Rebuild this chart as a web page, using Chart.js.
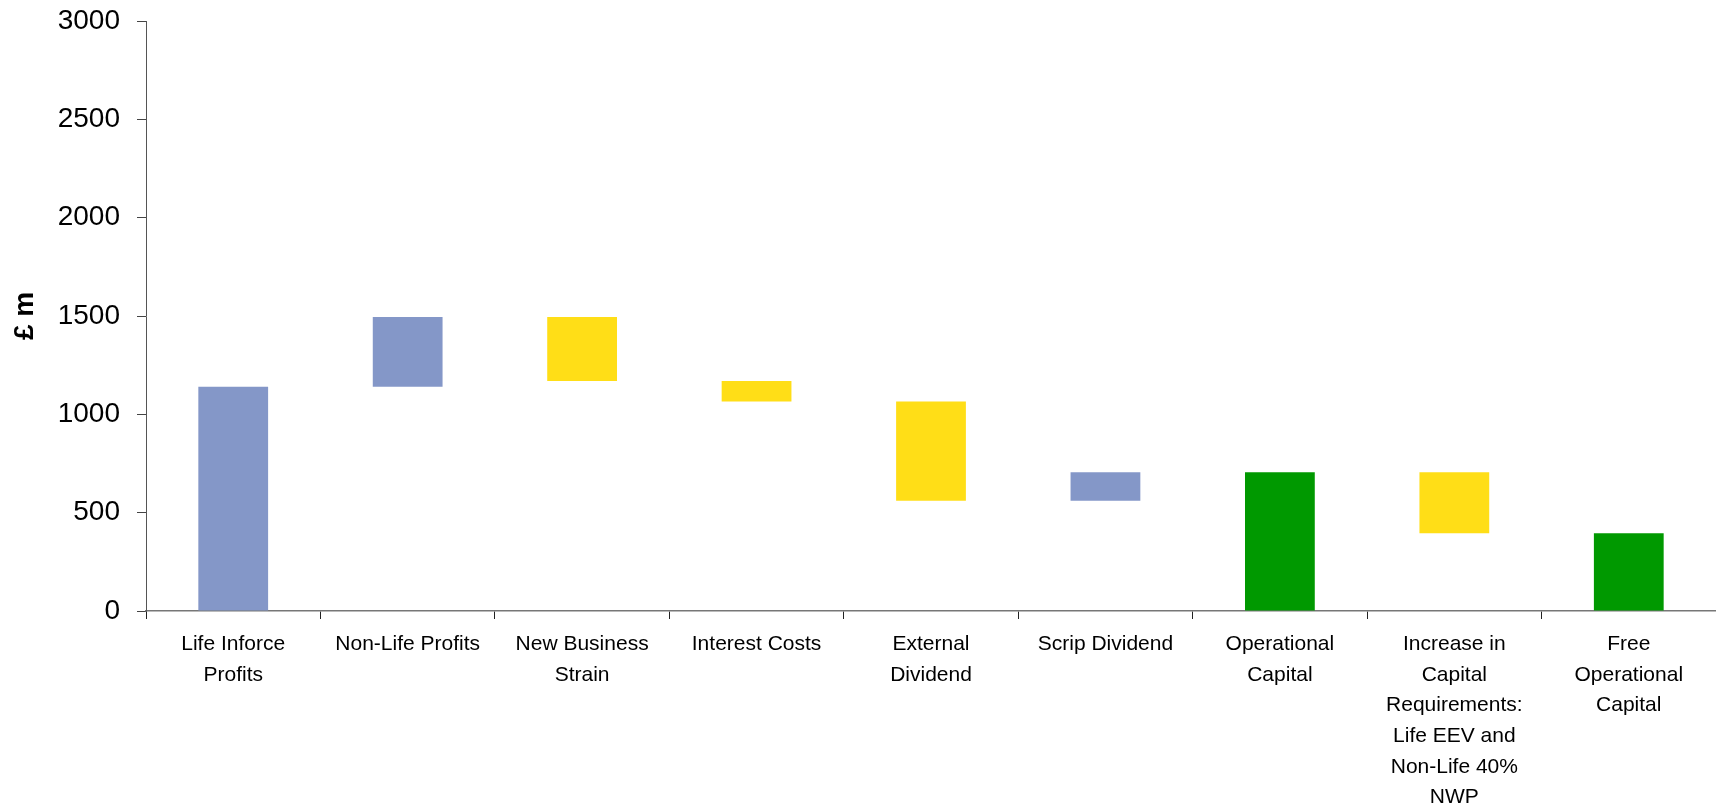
<!DOCTYPE html>
<html>
<head>
<meta charset="utf-8">
<script src="https://cdn.jsdelivr.net/npm/chart.js@4.4.0/dist/chart.umd.min.js"></script>
<style>
  html, body { margin: 0; padding: 0; background: #fff; }
  #wrap { width: 1716px; height: 806px; position: relative; }
</style>
</head>
<body>
<div id="wrap"><canvas id="waterfall"></canvas></div>
<script>
// Categories (multi-line tick labels)
const categories = [
    ['Life Inforce', 'Profits'],
    ['Non-Life Profits'],
    ['New Business', 'Strain'],
    ['Interest Costs'],
    ['External', 'Dividend'],
    ['Scrip Dividend'],
    ['Operational', 'Capital'],
    ['Increase in', 'Capital', 'Requirements:', 'Life EEV and', 'Non-Life 40%', 'NWP'],
    ['Free', 'Operational', 'Capital']
];

// Bottom and top of each floating bar (£ m)
const barLows  = [0,    1140, 1170, 1065, 560,  560, 0,   395, 0];
const barHighs = [1140, 1495, 1495, 1170, 1065, 705, 705, 705, 395];

// Kind of each step: gain, cost or total
const barKinds = ['gain', 'gain', 'cost', 'cost', 'cost', 'gain', 'total', 'cost', 'total'];
const kindColors = { gain: '#8497C8', cost: '#FFDE17', total: '#009900' };

const yTicks = [0, 500, 1000, 1500, 2000, 2500, 3000];

const ctx = document.getElementById('waterfall').getContext('2d');
new Chart(ctx, {
    type: 'bar',
    data: {
        labels: categories,
        datasets: [{
            data: barLows.map((lo, i) => [lo, barHighs[i]]),
            backgroundColor: barKinds.map(k => kindColors[k]),
            borderWidth: 0,
            barPercentage: 0.4,
            categoryPercentage: 1
        }]
    },
    options: {
        responsive: true,
        maintainAspectRatio: false,
        animation: false,
        layout: { padding: { top: 21, right: 0, bottom: 0, left: 0 } },
        plugins: {
            legend: { display: false },
            tooltip: { enabled: false }
        },
        scales: {
            x: {
                grid: {
                    offset: true,
                    drawOnChartArea: false,
                    tickLength: 8,
                    color: '#222'
                },
                border: { color: '#777', width: 1.5 },
                ticks: {
                    color: '#000',
                    maxRotation: 0,
                    autoSkip: false,
                    padding: 10,
                    font: { family: 'Liberation Sans, Arial, sans-serif', size: 21, lineHeight: 1.46 }
                },
                afterFit: scale => {
                    scale.height = 195;
                    scale.paddingLeft = 0;
                    scale.paddingRight = 0;
                }
            },
            y: {
                min: yTicks[0],
                max: yTicks[yTicks.length - 1],
                afterBuildTicks: scale => { scale.ticks = yTicks.map(v => ({ value: v })); },
                grid: {
                    drawOnChartArea: false,
                    tickLength: 9,
                    color: '#444'
                },
                border: { color: '#555', width: 1 },
                ticks: {
                    color: '#000',
                    padding: 17,
                    callback: v => String(v),
                    font: { family: 'Liberation Sans, Arial, sans-serif', size: 28 }
                },
                title: {
                    display: true,
                    text: '£ m',
                    color: '#000',
                    padding: { top: 8, bottom: 4 },
                    font: { family: 'Liberation Sans, Arial, sans-serif', size: 28, weight: 'bold' }
                },
                afterFit: scale => {
                    scale.width = 146;
                    scale.paddingTop = 0;
                    scale.paddingBottom = 0;
                }
            }
        }
    }
});
</script>
</body>
</html>
